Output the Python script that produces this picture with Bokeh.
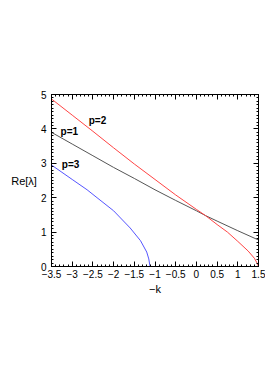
from bokeh.plotting import figure
from bokeh.models import Range1d, SingleIntervalTicker, LinearAxis, Label, CustomJSTickFormatter
from bokeh.embed import file_html
from bokeh.resources import INLINE

# p=1 (black)
k1 = [-3.5, -3.0, -2.5, -2.0, -1.5, -1.0, -0.5, 0.0, 0.22, 0.5, 1.0, 1.5]
r1 = [3.90, 3.56, 3.22, 2.88, 2.56, 2.23, 1.92, 1.62, 1.48, 1.32, 1.04, 0.77]
# p=2 (red)
k2 = [-3.5, -3.0, -2.5, -2.0, -1.5, -1.0, -0.5, 0.0, 0.22, 0.5, 0.75, 1.0, 1.25, 1.4, 1.47, 1.5]
r2 = [4.87, 4.40, 3.93, 3.45, 2.98, 2.53, 2.08, 1.66, 1.48, 1.22, 1.00, 0.73, 0.45, 0.24, 0.09, 0.0]
# p=3 (blue)
k3 = [-3.5, -3.0, -2.64, -2.4, -2.0, -1.6, -1.35, -1.2, -1.15, -1.12]
r3 = [2.95, 2.53, 2.23, 2.00, 1.62, 1.12, 0.75, 0.42, 0.22, 0.0]

labels = ["p=1", "p=2", "p=3"]
label_k = [-3.07, -2.39, -3.04]
label_r = [3.92, 4.24, 2.97]

FONT = "Liberation Sans"

p = figure(width=265, height=378, output_backend="svg", toolbar_location=None,
           x_range=Range1d(-3.5, 1.5), y_range=Range1d(0, 5),
           min_border_left=51, min_border_right=7, min_border_top=94, min_border_bottom=112,
           x_axis_location=None, y_axis_location=None)
p.grid.visible = False
p.outline_line_color = "black"
p.outline_line_width = 1
p.background_fill_color = "white"

fmt = CustomJSTickFormatter(code="return tick.toString().replace('-', '\u2212');")

def style(ax, show_labels):
    ax.major_tick_in = 5
    ax.major_tick_out = 0
    ax.minor_tick_in = 2
    ax.minor_tick_out = 0
    ax.axis_line_color = "black"
    ax.major_tick_line_color = "black"
    ax.minor_tick_line_color = "black"
    ax.major_label_text_font = FONT
    ax.major_label_text_font_size = "10px"
    ax.major_label_text_color = "black"
    if not show_labels:
        ax.major_label_text_alpha = 0
        ax.major_label_text_font_size = "0px"

xb = LinearAxis(ticker=SingleIntervalTicker(interval=0.5, num_minor_ticks=5), formatter=fmt,
                axis_label="\u2212k", axis_label_text_font=FONT, axis_label_text_font_size="11px",
                axis_label_text_font_style="normal", axis_label_text_color="black",
                axis_label_standoff=2)
style(xb, True)
xb.major_label_standoff = 3
p.add_layout(xb, "below")
xt = LinearAxis(ticker=SingleIntervalTicker(interval=0.5, num_minor_ticks=5))
style(xt, False)
p.add_layout(xt, "above")

yl = LinearAxis(ticker=SingleIntervalTicker(interval=1, num_minor_ticks=10), formatter=fmt,
                axis_label="Re[\u03bb]", axis_label_text_font=FONT, axis_label_text_font_size="11px",
                axis_label_text_font_style="normal", axis_label_text_color="black",
                axis_label_standoff=1, axis_label_orientation="horizontal")
style(yl, True)
yl.major_label_standoff = 5
p.add_layout(yl, "left")
yr = LinearAxis(ticker=SingleIntervalTicker(interval=1, num_minor_ticks=10))
style(yr, False)
p.add_layout(yr, "right")

p.line(k1, r1, line_color="#555555", line_width=1)
p.line(k2, r2, line_color="#ff4444", line_width=1)
p.line(k3, r3, line_color="#5555ff", line_width=1)

for t, x, y in zip(labels, label_k, label_r):
    p.add_layout(Label(x=x, y=y, text=t, text_font=FONT, text_font_size="10px",
                       text_font_style="bold", text_align="center", text_baseline="middle",
                       text_color="black"))

open("out.html", "w").write(file_html(p, INLINE))
